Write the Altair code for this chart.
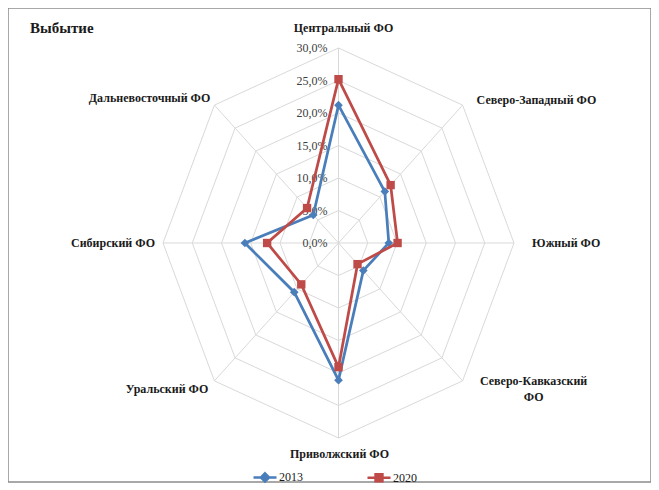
import math
import altair as alt
import pandas as pd

# ---------------- data ----------------
categories = [
    "Центральный ФО",
    "Северо-Западный ФО",
    "Южный ФО",
    "Северо-Кавказский ФО",
    "Приволжский ФО",
    "Уральский ФО",
    "Сибирский ФО",
    "Дальневосточный ФО",
]
values_2013 = [21.2, 11.2, 8.6, 6.0, 21.1, 10.7, 16.0, 6.1]
values_2020 = [25.2, 12.6, 10.1, 4.6, 19.1, 9.0, 12.2, 7.6]
years = ["2013", "2020"]
tick_values = [0, 5, 10, 15, 20, 25, 30]
tick_labels = ["0,0%", "5,0%", "10,0%", "15,0%", "20,0%", "25,0%", "30,0%"]
title_text = "Выбытие"

# ---------------- layout ----------------
W, H = 643, 474
CX, CY = 330.5, 235.0
RMAX = 30
KX, KY = 175.5 / RMAX, 195.0 / RMAX
xdom = [-CX / KX, (W - CX) / KX]
ydom = [-(H - CY) / KY, CY / KY]
N = len(categories)
BLUE, RED = "#4a7ebb", "#be4b48"
GRID = "#d9d9d9"
SERIF = "Liberation Serif, Times New Roman, DejaVu Serif, serif"


def polar(r, i):
    a = 2 * math.pi * i / N
    return r * math.sin(a), r * math.cos(a)


xs = alt.Scale(domain=xdom, nice=False, zero=False)
ys = alt.Scale(domain=ydom, nice=False, zero=False)
X = lambda f: alt.X(f, type="quantitative", scale=xs, axis=None)
Y = lambda f: alt.Y(f, type="quantitative", scale=ys, axis=None)

# series
rows = []
for yr, vals in zip(years, [values_2013, values_2020]):
    for k in range(N + 1):
        i = k % N
        x, y = polar(vals[i], i)
        rows.append({"year": yr, "category": categories[i], "value": vals[i], "order": k, "x": x, "y": y})
series = pd.DataFrame(rows)
s13 = series[series["year"] == "2013"]
s20 = series[series["year"] == "2020"]
pts13 = s13[s13["order"] < N]
pts20 = s20[s20["order"] < N]

# grid rings
grows = []
for t in tick_values[1:]:
    for k in range(N + 1):
        x, y = polar(t, k % N)
        grows.append({"level": t, "order": k, "x": x, "y": y})
rings = pd.DataFrame(grows)

spokes = pd.DataFrame(
    [{"x0": 0.0, "y0": 0.0, "x": polar(RMAX, i)[0], "y": polar(RMAX, i)[1]} for i in range(N)]
)

ticks = pd.DataFrame({"x": [0.0] * len(tick_values), "y": tick_values, "label": tick_labels})

# category label placement (align, dx px, dy px, display text)
place = {
    "Центральный ФО": ("center", 5, -20, "Центральный ФО"),
    "Северо-Западный ФО": ("left", 14, -5, "Северо-Западный ФО"),
    "Южный ФО": ("left", 18, 0, "Южный ФО"),
    "Северо-Кавказский ФО": ("center", 71, 0, "Северо-Кавказский\nФО"),
    "Приволжский ФО": ("center", 1, 16, "Приволжский ФО"),
    "Уральский ФО": ("right", -6, 8, "Уральский ФО"),
    "Сибирский ФО": ("right", -8, 0, "Сибирский ФО"),
    "Дальневосточный ФО": ("right", -4, -7, "Дальневосточный ФО"),
}
lrows = []
for i, c in enumerate(categories):
    al, dx, dy, txt = place[c]
    x, y = polar(RMAX, i)
    lrows.append({"al": al, "x": x + dx / KX, "y": y - dy / KY, "text": txt})
labels = pd.DataFrame(lrows)

# ---------------- layers ----------------
LEG13 = "M-1,0L1,0M0,-0.36L0.36,0L0,0.36L-0.36,0Z"
LEG20 = "M-1,0L1,0M-0.3,-0.3L0.3,-0.3L0.3,0.3L-0.3,0.3Z"
legend_def = alt.Legend(
    title=None, orient="none", legendX=244, legendY=456, direction="horizontal",
    symbolSize=529, symbolStrokeWidth=2.5, symbolOpacity=1, labelFont=SERIF,
    labelFontSize=12, labelColor="#1a1a1a", labelOffset=1, columnPadding=59,
)
legend_layer = alt.Chart(series).mark_point(filled=True, opacity=0).encode(
    x=X("x"), y=Y("y"),
    color=alt.Color("year:N", scale=alt.Scale(domain=years, range=[BLUE, RED]), legend=legend_def),
    stroke=alt.Stroke("year:N", scale=alt.Scale(domain=years, range=[BLUE, RED]), legend=legend_def),
    shape=alt.Shape("year:N", scale=alt.Scale(domain=years, range=[LEG13, LEG20]), legend=legend_def),
)

ring_layer = alt.Chart(rings).mark_line(color=GRID, strokeWidth=1).encode(
    x=X("x"), y=Y("y"), detail="level:N", order="order:Q"
)
spoke_layer = alt.Chart(spokes).mark_rule(color=GRID, strokeWidth=1).encode(
    x=X("x0"), y=Y("y0"), x2="x", y2="y"
)
tick_layer = alt.Chart(ticks).mark_text(
    align="right", baseline="middle", dx=-11, font=SERIF, fontSize=12, color="#404040"
).encode(x=X("x"), y=Y("y"), text="label:N")

label_layers = []
for al in ["left", "right", "center"]:
    label_layers.append(
        alt.Chart(labels[labels["al"] == al]).mark_text(
            align=al, baseline="middle", font=SERIF, fontSize=12, fontWeight="bold",
            color="#1a1a1a", lineBreak="\n", lineHeight=16,
        ).encode(x=X("x"), y=Y("y"), text="text:N")
    )

line13 = alt.Chart(s13).mark_line(strokeWidth=2.75, color=BLUE).encode(
    x=X("x"), y=Y("y"), order="order:Q"
)
line20 = alt.Chart(s20).mark_line(strokeWidth=2.75, color=RED).encode(
    x=X("x"), y=Y("y"), order="order:Q"
)
pt13 = alt.Chart(pts13).mark_point(shape="diamond", filled=True, size=75, opacity=1, color=BLUE).encode(
    x=X("x"), y=Y("y")
)
pt20 = alt.Chart(pts20).mark_point(shape="square", filled=True, size=70, opacity=1, color=RED).encode(
    x=X("x"), y=Y("y")
)

chart = alt.layer(
    legend_layer, ring_layer, spoke_layer, tick_layer, *label_layers, line13, pt13, line20, pt20
).properties(
    width=W, height=H,
    padding={"left": 0, "top": 0, "right": 0, "bottom": 8},
    autosize=alt.AutoSizeParams(type="none"),
    title=alt.Title(
        title_text, anchor="start", frame="group", offset=-15, dx=22, dy=20, baseline="middle",
        font=SERIF, fontSize=15, fontWeight="bold", color="#1a1a1a",
    ),
).configure_view(stroke="#8c8c8c", strokeWidth=1.5)

chart.save("out.html", embed_options={"renderer": "svg", "actions": False})
